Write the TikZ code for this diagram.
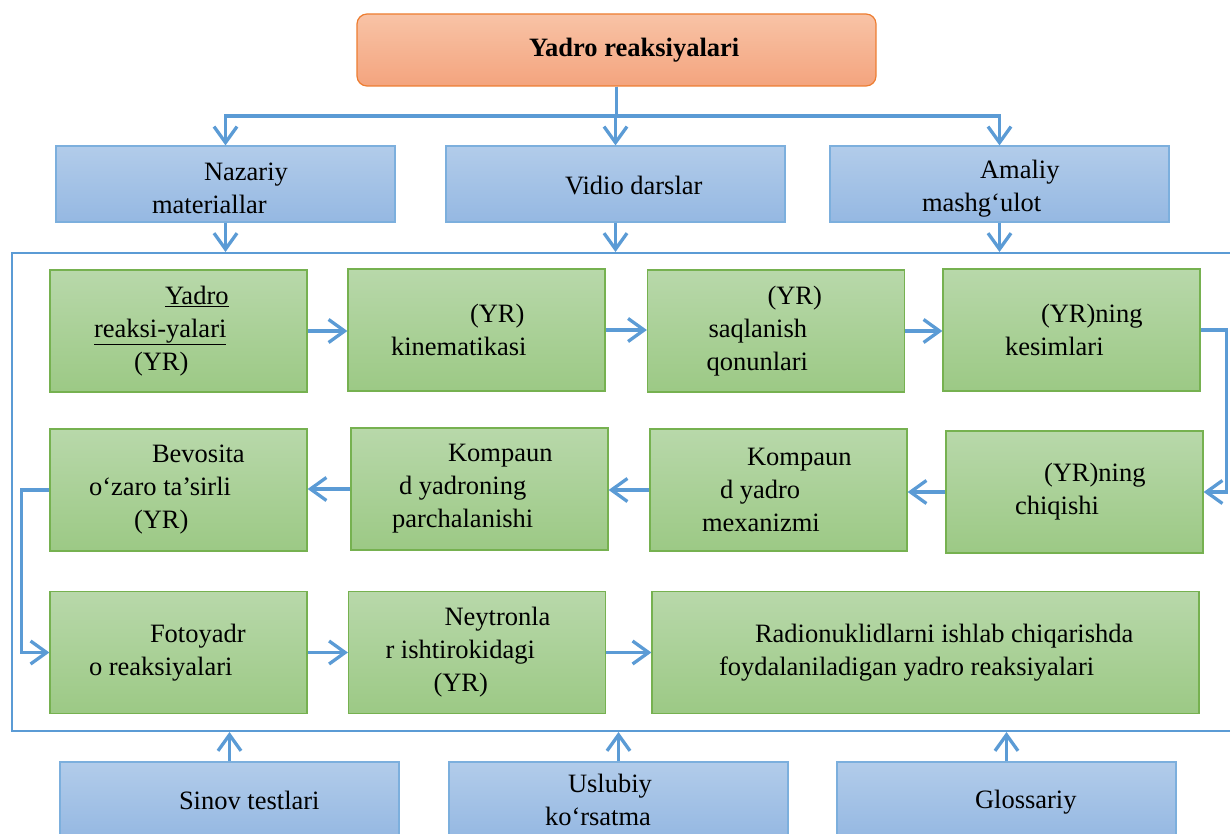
\documentclass[tikz,border=0pt]{standalone}
\usepackage{fontspec}
\setmainfont{Liberation Serif}
\usepackage{tikz}
\usetikzlibrary{arrows.meta}
\definecolor{linkblue}{HTML}{5B9BD5}
\definecolor{bluetop}{HTML}{B2CCEA}
\definecolor{bluebot}{HTML}{95B8E2}
\definecolor{greenline}{HTML}{76B150}
\definecolor{greentop}{HTML}{B8D8AA}
\definecolor{greenbot}{HTML}{9CC985}
\definecolor{orangeline}{HTML}{ED7D31}
\definecolor{orangetop}{HTML}{F8C3A6}
\definecolor{orangebot}{HTML}{F4A47E}
\newcommand{\ind}[1]{\hspace*{#1pt}}
\newcommand{\lift}[1]{\rule{0pt}{#1pt}}

\begin{document}
\begin{tikzpicture}[x=1pt,y=-1pt,
    every node/.style={font=\fontsize{26.5}{33}\selectfont, inner xsep=0pt, align=flush left},
    topbox/.style={draw=orangeline, line width=1.2pt, rounded corners=10pt, top color=orangetop, bottom color=orangebot, text width=519pt, minimum height=72pt, font=\fontsize{26.5}{33}\selectfont\bfseries},
    bluebox/.style={draw=linkblue!80, line width=1.2pt, top color=bluetop, bottom color=bluebot, text width=339pt, minimum height=76pt},
    greenbox/.style={draw=greenline, line width=1.2pt, top color=greentop, bottom color=greenbot, text width=257pt, minimum height=122pt},
    arr/.style={draw=linkblue, line width=3.3pt, -{Straight Barb[length=16pt,width=23pt]}}]
    %
    \useasboundingbox (0,0) rectangle (1230,834);
    %
    % title and upper boxes
    \node[topbox] (title) at (616.5,50) {\ind{172}Yadro reaksiyalari};
    \node[bluebox] (nazariy) at (225.5,184) {\lift{27}\ind{148}Nazariy\\\ind{96}materiallar};
    \node[bluebox] (vidio) at (615.5,184) {\lift{22}\ind{119}Vidio darslar};
    \node[bluebox] (amaliy) at (999.5,184) {\lift{27}\ind{150}Amaliy\\\ind{92}mashg‘ulot};
    %
    % frame round the topics
    \node[draw=linkblue, line width=2pt, minimum width=1238pt, minimum height=478pt, inner sep=0pt] (frame) at (631,492) {};
    %
    % topics
    \node[greenbox] (b1) at (178.5,331) {\ind{115}\underline{Yadro}\\\ind{44}\underline{reaksi-yalari}\\\ind{84}(YR)};
    \node[greenbox] (b2) at (476.5,330) {\ind{122}(YR)\\\ind{43}kinematikasi};
    \node[greenbox] (b3) at (776,331) {\ind{120}(YR)\\\ind{61}saqlanish\\\ind{59}qonunlari};
    \node[greenbox] (b4) at (1071.5,330) {\ind{98}(YR)ning\\\ind{62}kesimlari};
    %
    \node[greenbox] (c1) at (178.5,490) {\ind{102}Bevosita\\\ind{39}o‘zaro ta’sirli\\\ind{84}(YR)};
    \node[greenbox] (c2) at (479.5,489) {\ind{97}Kompaun\\\ind{48}d yadroning\\\ind{41}parchalanishi};
    \node[greenbox] (c3) at (778.5,490) {\ind{97}Kompaun\\\ind{70}d yadro\\\ind{52}mexanizmi};
    \node[greenbox] (c4) at (1074.5,492) {\ind{98}(YR)ning\\\ind{69}chiqishi};
    %
    \node[greenbox] (d1) at (178.5,652.5) {\ind{100}Fotoyadr\\\ind{39}o reaksiyalari};
    \node[greenbox] (d2) at (477,652.5) {\ind{96}Neytronla\\\ind{37}r ishtirokidagi\\\ind{85}(YR)};
    \node[greenbox, text width=547pt] (d3) at (925.5,652.5) {\ind{103}Radionuklidlarni ishlab chiqarishda\\\ind{67}foydalaniladigan yadro reaksiyalari};
    %
    % lower boxes
    \node[bluebox] (sinov) at (229.5,800) {\ind{119}Sinov testlari};
    \node[bluebox] (uslubiy) at (618.5,800) {\ind{119}Uslubiy\\\ind{96}ko‘rsatma};
    \node[bluebox] (glossariy) at (1006.5,800) {\lift{22}\ind{138}Glossariy};
    %
    % links
    \coordinate (bar) at (614,116);
    \draw[arr] (title.south) -- (title.south |- bar) -| (nazariy.north);
    \draw[arr] (title.south) -- (title.south |- bar) -| (vidio.north);
    \draw[arr] (title.south) -- (title.south |- bar) -| (amaliy.north);
    \foreach \n in {nazariy,vidio,amaliy}
        \draw[arr] (\n.south) -- (\n.south |- frame.north);
    \foreach \n in {sinov,uslubiy,glossariy}
        \draw[arr] (\n.north) -- (\n.north |- frame.south);
    %
    \draw[arr] (b1.east) -- (b1.east -| b2.west);
    \draw[arr] (b2.east) -- (b2.east -| b3.west);
    \draw[arr] (b3.east) -- (b3.east -| b4.west);
    \draw[arr] (b4.east) -- ++(26,0) |- (c4.east);
    \draw[arr] (c4.west) -- (c4.west -| c3.east);
    \draw[arr] (c3.west) -- (c3.west -| c2.east);
    \draw[arr] (c2.west) -- (c2.west -| c1.east);
    \draw[arr] (c1.west) -- ++(-28,0) |- (d1.west);
    \draw[arr] (d1.east) -- (d1.east -| d2.west);
    \draw[arr] (d2.east) -- (d2.east -| d3.west);
\end{tikzpicture}
\end{document}
